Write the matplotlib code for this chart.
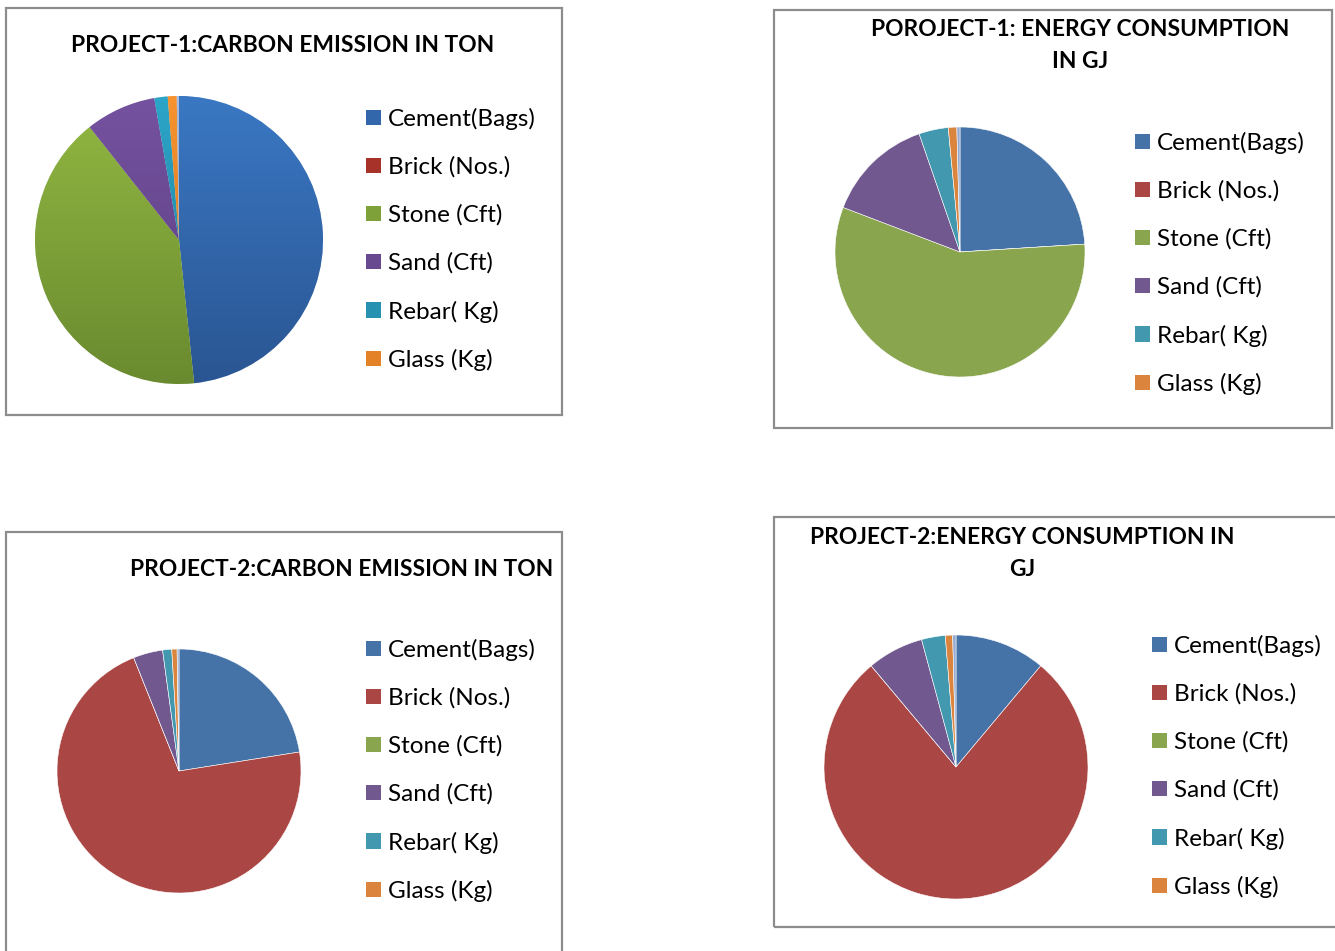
import numpy as np
import matplotlib.pyplot as plt
from matplotlib.patches import Rectangle, Patch

plt.rcParams['font.family'] = ['Lato', 'DejaVu Sans']

W, H = 1335, 951

materials = ['Cement(Bags)', 'Brick (Nos.)', 'Stone (Cft)', 'Sand (Cft)', 'Rebar( Kg)', 'Glass (Kg)']

# shares in percent, last entry is a small unlabelled remainder
p1_carbon = [48.3, 0, 41.0, 7.9, 1.5, 1.0, 0.25]
p1_energy = [24.0, 0, 56.8, 13.9, 3.8, 1.1, 0.4]
p2_carbon = [22.5, 71.4, 0, 3.9, 1.2, 0.7, 0.25]
p2_energy = [11.1, 77.8, 0, 6.9, 2.9, 0.9, 0.4]

flat_colors = ['#4572A7', '#AA4643', '#89A54E', '#71588F', '#4198AF', '#DB843D', '#93A9CF']
# top / bottom shades for the shaded pie
grad_colors = [('#3A78C3', '#2A5592'), ('#C0392F', '#8E2A25'), ('#92B842', '#6A8A2F'),
               ('#7552A0', '#5A3F7E'), ('#2CA5C8', '#1F7C98'), ('#F79430', '#D0701B'),
               ('#A6BCE3', '#8098C6')]


def hex_rgb(h):
    h = h.lstrip('#')
    return np.array([int(h[i:i + 2], 16) / 255 for i in (0, 2, 4)])


fig = plt.figure(figsize=(W / 100, H / 100), dpi=100)


def draw_panel(values, box, center, radius, titles, legend_at, shaded=False):
    x0, y0, x1, y1 = box
    fig.add_artist(Rectangle((x0 / W, 1 - y1 / H), (x1 - x0) / W, (y1 - y0) / H,
                             transform=fig.transFigure, fill=False,
                             edgecolor='#8c8c8c', linewidth=1.6))
    cx, cy = center
    ax = fig.add_axes([(cx - radius) / W, 1 - (cy + radius) / H, 2 * radius / W, 2 * radius / H])
    wedges, _ = ax.pie(values, colors=flat_colors, startangle=90, counterclock=False,
                       wedgeprops=dict(edgecolor='white', linewidth=0.4))
    if shaded:
        for w, (top, bot) in zip(wedges, grad_colors):
            t = np.linspace(0, 1, 256)[:, None]
            img = (1 - t) * hex_rgb(top) + t * hex_rgb(bot)
            im = ax.imshow(img[:, None, :], extent=(-1, 1, -1, 1), aspect='auto',
                           origin='upper', zorder=2)
            im.set_clip_path(w)
    ax.set_xlim(-1, 1)
    ax.set_ylim(-1, 1)
    ax.set_aspect('equal')
    ax.axis('off')

    for text, tx, ty in titles:
        fig.text(tx / W, 1 - ty / H, text, ha='center', va='center',
                 fontsize=16.4, fontweight='bold', color='black')

    if shaded:
        cols = [((hex_rgb(a) + hex_rgb(b)) / 2) for a, b in grad_colors[:6]]
    else:
        cols = flat_colors[:6]
    handles = [Patch(facecolor=c, edgecolor='none') for c in cols]
    lx, ly = legend_at
    fig.legend(handles, materials, loc='center left', bbox_to_anchor=(lx / W, 1 - ly / H),
               frameon=False, fontsize=17.5, handlelength=0.6, handleheight=0.6,
               handletextpad=0.3, labelspacing=1.09, borderpad=0, borderaxespad=0)


draw_panel(p1_carbon, (6, 8, 562, 415), (179, 240), 144,
           [('PROJECT-1:CARBON EMISSION IN TON', 283, 45)], (366, 239.5), shaded=True)
draw_panel(p1_energy, (774, 10, 1332, 428), (960, 252), 125,
           [('POROJECT-1: ENERGY CONSUMPTION', 1080, 30), ('IN GJ', 1080, 62)], (1135, 263.5))
draw_panel(p2_carbon, (6, 532, 562, 980), (179, 771), 122,
           [('PROJECT-2:CARBON EMISSION IN TON', 342, 569)], (366, 770.5))
draw_panel(p2_energy, (774, 517, 1360, 927), (956, 767), 132,
           [('PROJECT-2:ENERGY CONSUMPTION IN', 1022, 538), ('GJ', 1022, 570)], (1152, 766.5))

fig.savefig('out.png', dpi=100)
